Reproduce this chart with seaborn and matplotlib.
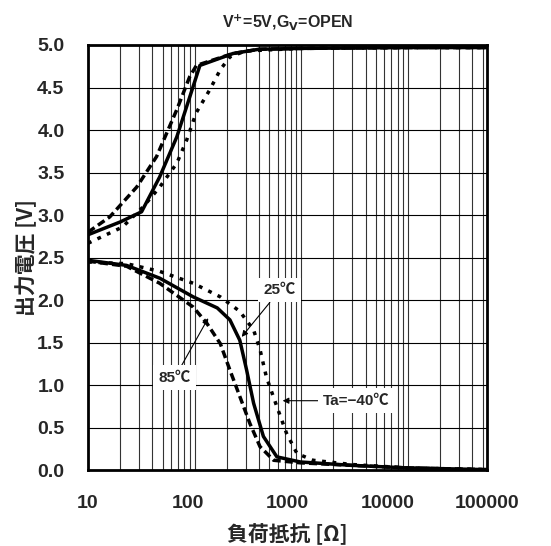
import numpy as np
import pandas as pd
import matplotlib
matplotlib.use("Agg")
import matplotlib.pyplot as plt
import seaborn as sns
from matplotlib.ticker import FixedLocator, NullFormatter

sns.set_style("white")
plt.rcParams['font.family'] = ['Liberation Sans', 'Noto Sans CJK JP', 'DejaVu Sans']

# ---- data ----
R_up_25 = [10, 20, 31.8, 47, 68, 90, 112, 229, 400, 1000, 10000, 55000]
V_up_25 = [2.77, 2.92, 3.04, 3.45, 3.92, 4.39, 4.76, 4.90, 4.95, 4.96, 4.97, 4.97]
R_up_85 = [10, 16, 28.6, 44, 68, 90, 104, 229, 400, 1000, 10000, 55000]
V_up_85 = [2.80, 2.98, 3.33, 3.69, 4.24, 4.63, 4.76, 4.90, 4.95, 4.96, 4.97, 4.97]
R_up_m40 = [10, 21, 33, 47, 68, 84, 103, 138, 174, 214, 300, 1000, 10000, 55000]
V_up_m40 = [2.67, 2.86, 3.10, 3.33, 3.61, 3.88, 4.20, 4.47, 4.71, 4.86, 4.93, 4.96, 4.97, 4.97]

R_lo_25 = [10, 23, 47, 97, 163, 214, 265, 307, 357, 441, 590, 980, 3000, 10000, 55000]
V_lo_25 = [2.47, 2.41, 2.26, 2.04, 1.91, 1.77, 1.53, 1.18, 0.79, 0.40, 0.16, 0.10, 0.06, 0.03, 0.01]
R_lo_85 = [10, 23, 47, 97, 130, 174, 214, 265, 330, 410, 550, 980, 3000, 10000, 55000]
V_lo_85 = [2.46, 2.40, 2.20, 1.92, 1.73, 1.49, 1.18, 0.87, 0.55, 0.28, 0.12, 0.09, 0.06, 0.03, 0.01]
R_lo_m40 = [10, 23, 47, 97, 174, 265, 357, 410, 470, 590, 725, 910, 1290, 3000, 10000, 55000]
V_lo_m40 = [2.45, 2.43, 2.34, 2.20, 2.04, 1.87, 1.65, 1.42, 1.10, 0.75, 0.44, 0.20, 0.12, 0.07, 0.03, 0.01]

x_tick_labels = ["10", "100", "1000", "10000", "100000"]
y_ticks = [0.0, 0.5, 1.0, 1.5, 2.0, 2.5, 3.0, 3.5, 4.0, 4.5, 5.0]
X_MIN, X_MAX = 10, 55000

series = [
    ("up", "25", R_up_25, V_up_25),
    ("up", "85", R_up_85, V_up_85),
    ("up", "-40", R_up_m40, V_up_m40),
    ("lo", "25", R_lo_25, V_lo_25),
    ("lo", "85", R_lo_85, V_lo_85),
    ("lo", "-40", R_lo_m40, V_lo_m40),
]
styles = {"25": "-", "85": (0, (2.3, 1.2)), "-40": (0, (1.1, 1.9))}

fig = plt.figure(figsize=(5.51, 5.46), dpi=100)
ax = fig.add_axes([0.1597, 0.1383, 0.7241, 0.7793])

for branch, temp, R, V in series:
    df = pd.DataFrame({"R": R, "V": V})
    sns.lineplot(data=df, x="R", y="V", ax=ax, color="black", lw=2.5,
                 linestyle=styles[temp], sort=False, estimator=None)
for ln in ax.lines:
    ln.set_dash_capstyle("butt")
    ln.set_solid_capstyle("butt")

ax.set_xscale("log")
ax.set_xlim(X_MIN, X_MAX)
ax.set_ylim(0, 5.0)

# grid: minor vertical lines at 1..9 x decade
minor = []
for d in [10, 100, 1000, 10000]:
    for m in range(1, 10):
        v = d * m
        if X_MIN < v < X_MAX:
            minor.append(v)
ax.xaxis.set_minor_locator(FixedLocator(minor))
ax.xaxis.set_minor_formatter(NullFormatter())
ax.grid(True, which="minor", axis="x", color="#333333", lw=0.8)
ax.set_yticks(y_ticks)
ax.grid(True, which="major", axis="y", color="black", lw=0.8)

# x tick labels evenly spread over the axis as in the reference
L = np.log10(X_MAX / X_MIN)
pos = [X_MIN * 10 ** (k * L / 4) for k in range(5)]
ax.set_xticks(pos)
ax.set_xticklabels(x_tick_labels)
ax.grid(False, which="major", axis="x")
ax.tick_params(axis="both", which="both", length=0)
ax.tick_params(axis="x", pad=18)
ax.tick_params(axis="y", pad=17)
ax.set_yticklabels([f"{v:.1f}" for v in y_ticks])
for lab in ax.get_xticklabels() + ax.get_yticklabels():
    lab.set_fontsize(14)
    lab.set_fontweight("bold")

for s in ax.spines.values():
    s.set_color("black")
    s.set_linewidth(2.0)

ax.set_xlabel("負荷抵抗 [Ω]", fontsize=15, fontweight="bold",
              family=["Noto Sans CJK JP"], labelpad=8)
ax.set_ylabel("出力電圧 [V]", fontsize=15, fontweight="bold",
              family=["Noto Sans CJK JP"], labelpad=0)
ax.set_title("V$^{\\mathbf{+}}$=5V,G$_{\\mathbf{V}}$=OPEN", fontsize=11.5,
             fontweight="bold", pad=13)

bbox = dict(boxstyle="square,pad=0.35", fc="white", ec="none")
arrow = dict(arrowstyle="-|>", color="black", lw=0.8, mutation_scale=9,
             shrinkA=0, shrinkB=0)
fam = ["Liberation Sans", "Noto Sans CJK JP"]
ax.annotate("25℃", xy=(276, 1.57), xytext=(630, 2.12), fontsize=11,
            fontweight="bold", ha="center", va="center", bbox=bbox,
            arrowprops=arrow, family=fam)
ax.annotate("85℃", xy=(134, 1.79), xytext=(65, 1.09), fontsize=11,
            fontweight="bold", ha="center", va="center", bbox=bbox,
            arrowprops=arrow, family=fam)
ax.annotate("Ta=\u221240℃", xy=(668, 0.82), xytext=(3300, 0.82), fontsize=11,
            fontweight="bold", ha="center", va="center", bbox=bbox,
            arrowprops=arrow, family=fam)

fig.savefig("out.png", dpi=100)
